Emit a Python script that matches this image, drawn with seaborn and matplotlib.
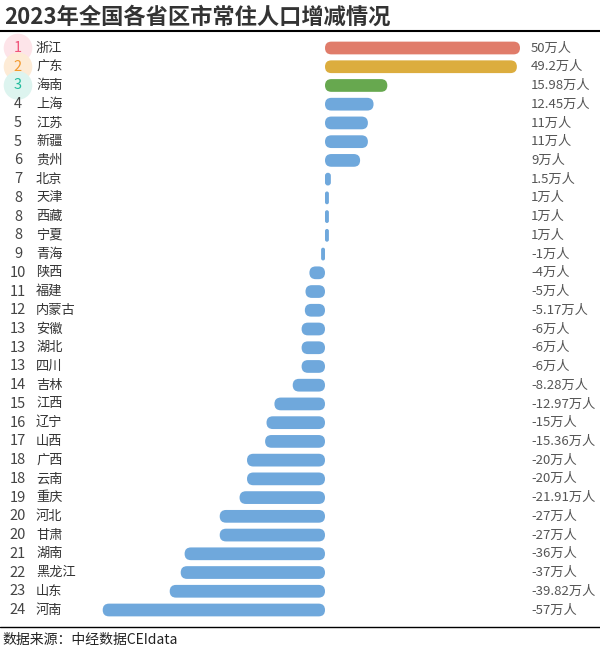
import pandas as pd
import numpy as np
import matplotlib
matplotlib.use("Agg")
import matplotlib.pyplot as plt
import matplotlib.transforms as mtransforms
from matplotlib.patches import FancyBboxPatch
import seaborn as sns

# data
ranks = [1, 2, 3, 4, 5, 5, 6, 7, 8, 8, 8, 9, 10, 11, 12, 13, 13, 13, 14, 15, 16,
         17, 18, 18, 19, 20, 20, 21, 22, 23, 24]
provinces = ["浙江", "广东", "海南", "上海", "江苏", "新疆", "贵州", "北京", "天津", "西藏",
             "宁夏", "青海", "陕西", "福建", "内蒙古", "安徽", "湖北", "四川", "吉林", "江西",
             "辽宁", "山西", "广西", "云南", "重庆", "河北", "甘肃", "湖南", "黑龙江", "山东", "河南"]
values = [50, 49.2, 15.98, 12.45, 11, 11, 9, 1.5, 1, 1, 1, -1, -4, -5, -5.17, -6, -6, -6,
          -8.28, -12.97, -15, -15.36, -20, -20, -21.91, -27, -27, -36, -37, -39.82, -57]
value_labels = ["50万人", "49.2万人", "15.98万人", "12.45万人", "11万人", "11万人", "9万人",
                "1.5万人", "1万人", "1万人", "1万人", "-1万人", "-4万人", "-5万人", "-5.17万人",
                "-6万人", "-6万人", "-6万人", "-8.28万人", "-12.97万人", "-15万人", "-15.36万人",
                "-20万人", "-20万人", "-21.91万人", "-27万人", "-27万人", "-36万人", "-37万人",
                "-39.82万人", "-57万人"]
title = "2023年全国各省区市常住人口增减情况"
source = "数据来源：中经数据CEIdata"

# colours
top_colors = ["#E07C6A", "#DCAD3E", "#67A84F"]
other_color = "#6FA8DC"
circle_face = ["#FDE4E9", "#FDEBD6", "#DDF4EF"]
circle_text = ["#F0557A", "#F39A2E", "#22BC9C"]

sns.set_theme(style="white")
plt.rcParams["font.family"] = ["Noto Sans CJK SC", "DejaVu Sans"]

df = pd.DataFrame({"province": provinces, "value": values})
palette = {p: (top_colors[i] if i < 3 else other_color) for i, p in enumerate(provinces)}

W, H = 600, 650
fig = plt.figure(figsize=(6, 6.5), dpi=100)
fig.patch.set_facecolor("white")

# axes placed so that zero sits at x=325px and rows run from 48px to 610px
px_per_unit = 3.9
step = (610 - 48) / 30
top_px = 48 - step / 2
bot_px = 610 + step / 2
ax = fig.add_axes([0, 1 - bot_px / H, 1, (bot_px - top_px) / H])

sns.barplot(data=df, x="value", y="province", hue="province", palette=palette,
            order=provinces, orient="h", width=0.68, legend=False, saturation=1, ax=ax)
ax.set_xlim(-325 / px_per_unit, (W - 325) / px_per_unit)
ax.set_ylim(len(provinces) - 0.5, -0.5)
ax.axis("off")

# swap the plain rectangles for rounded ones
aspect = (1 / step) / (1 / px_per_unit)
for patch in list(ax.patches):
    x0, y0 = patch.get_x(), patch.get_y()
    w, h = patch.get_width(), patch.get_height()
    if w < 0:
        x0, w = x0 + w, -w
    r = min(h / aspect / 2, w / 2)
    fancy = FancyBboxPatch((x0, y0), w, h,
                           boxstyle=f"round,pad=0,rounding_size={r}",
                           mutation_aspect=aspect,
                           fc=patch.get_facecolor(), ec="none")
    patch.remove()
    ax.add_patch(fancy)

trans = mtransforms.blended_transform_factory(fig.transFigure, ax.transData)
for i, (rk, name, lab) in enumerate(zip(ranks, provinces, value_labels)):
    if i < 3:
        ax.text(18 / W, i, str(rk), transform=trans, ha="center", va="center",
                fontsize=10.5, color=circle_text[i],
                bbox=dict(boxstyle="circle,pad=0.5", fc=circle_face[i], ec="none"))
    else:
        ax.text(18 / W, i, str(rk), transform=trans, ha="center", va="center",
                fontsize=10.5, color="#444444")
    ax.text(36 / W, i, name, transform=trans, ha="left", va="center",
            fontsize=9.5, color="#333333")
    ax.text(531 / W, i, lab, transform=trans, ha="left", va="center",
            fontsize=9.5, color="#555555")

# title, rules and source
fig.text(4 / W, 1 - 17 / H, title, ha="left", va="center", fontsize=16,
         fontweight="bold", color="#333333")
fig.add_artist(plt.Line2D([0, 1], [1 - 31 / H, 1 - 31 / H], color="black", lw=1.5))
fig.add_artist(plt.Line2D([0, 1], [1 - 627 / H, 1 - 627 / H], color="black", lw=1))
fig.text(2 / W, 1 - 640 / H, source, ha="left", va="center", fontsize=10, color="#222222")

fig.savefig("out.png", dpi=100, facecolor="white")
